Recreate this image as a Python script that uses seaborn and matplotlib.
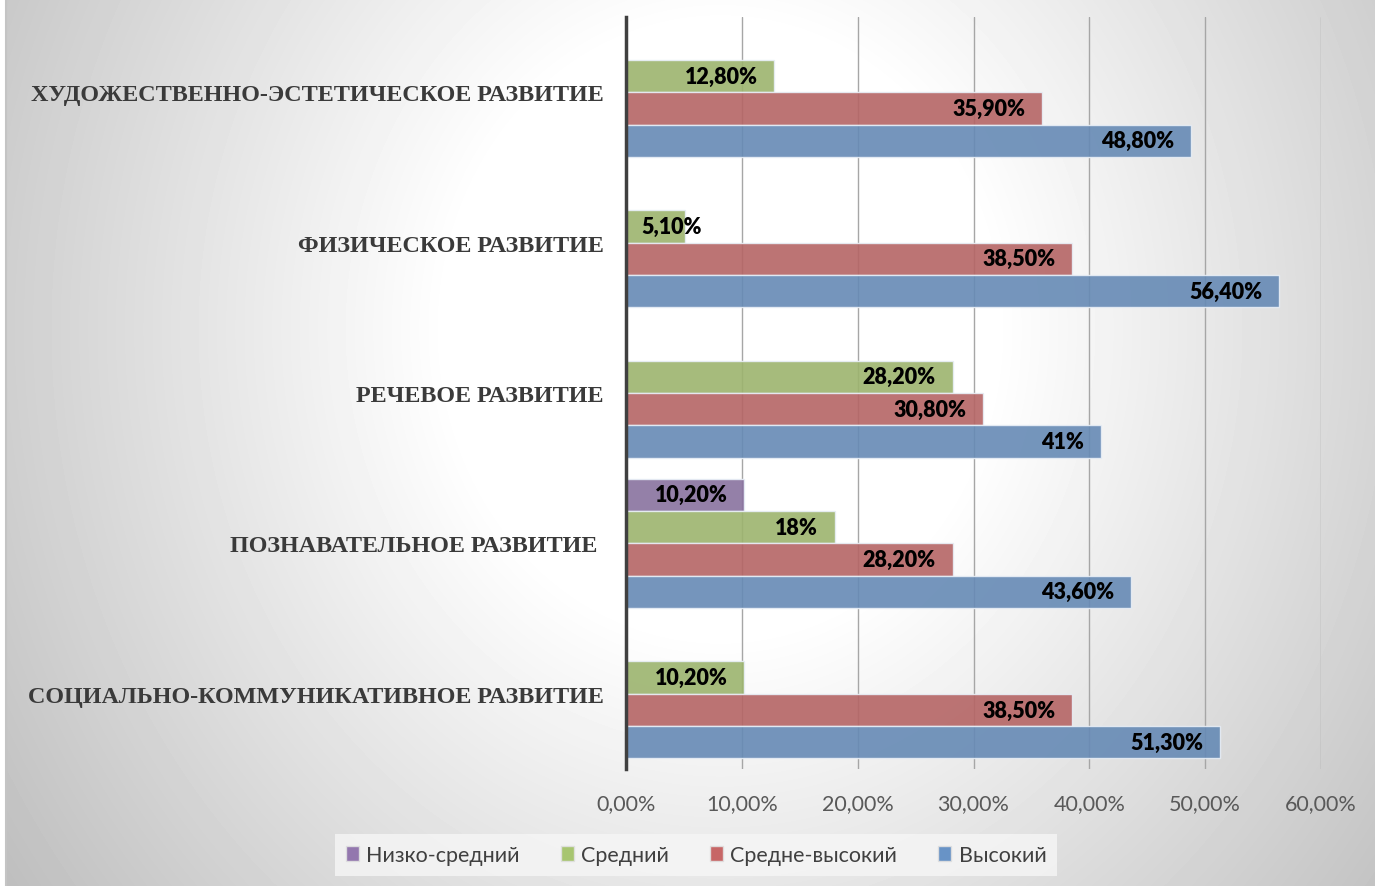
"""Уровни развития по образовательным областям — горизонтальная столбчатая диаграмма"""

import numpy as np
import pandas as pd
import matplotlib.pyplot as plt
import seaborn as sns
from matplotlib.patches import Patch

# категории сверху вниз
categories = [
    'ХУДОЖЕСТВЕННО-ЭСТЕТИЧЕСКОЕ РАЗВИТИЕ',
    'ФИЗИЧЕСКОЕ РАЗВИТИЕ',
    'РЕЧЕВОЕ РАЗВИТИЕ',
    'ПОЗНАВАТЕЛЬНОЕ РАЗВИТИЕ ',
    'СОЦИАЛЬНО-КОММУНИКАТИВНОЕ РАЗВИТИЕ',
]
levels = ['Низко-средний', 'Средний', 'Средне-высокий', 'Высокий']

# значения в %, None = нет столбца
low_mid = [None, None, None, 10.2, None]
mid = [12.8, 5.1, 28.2, 18.0, 10.2]
mid_high = [35.9, 38.5, 30.8, 28.2, 38.5]
high = [48.8, 56.4, 41.0, 43.6, 51.3]

x_ticks = [0, 10, 20, 30, 40, 50, 60]

colors = ['#896aa7', '#9fc062', '#c35757', '#5989c2']


def fmt_pct(v):
    if float(v).is_integer():
        return f'{int(v)}%'
    return f'{v:.2f}'.replace('.', ',') + '%'


rows = []
for lvl, vals in zip(levels, [low_mid, mid, mid_high, high]):
    for cat, v in zip(categories, vals):
        if v is not None:
            rows.append({'Область': cat, 'Уровень': lvl, 'Значение': v})
df = pd.DataFrame(rows)

sns.set_style('white')
plt.rcParams['font.family'] = ['Lato', 'DejaVu Sans']

fig = plt.figure(figsize=(13.75, 8.87), dpi=100)

# фон — радиальный градиент (белый в центре, серый к краям)
bg = fig.add_axes([0, 0, 1, 1], zorder=-10)
yy, xx = np.mgrid[0:887, 0:1375]
r = np.hypot((xx - 720) / 720, (yy - 330) / 800)
shade = (255 - 78 * np.clip(r - 0.38, 0, None)) / 255
shade[:, :5] = 1.0
bg.imshow(shade, cmap='gray', vmin=0, vmax=1, aspect='auto', interpolation='bilinear')
bg.axvline(5.5, color='#c4c4c4', lw=1.5)
bg.set_axis_off()

ax = fig.add_axes([626 / 1375, 1 - 770 / 887, 695 / 1375, 752 / 887])
ax.patch.set_alpha(0)

sns.barplot(data=df, y='Область', x='Значение', hue='Уровень',
            order=categories, hue_order=levels, palette=colors,
            orient='h', width=0.86, alpha=0.9, edgecolor='#e8eef6',
            linewidth=1, legend=False, ax=ax)

# подписи значений
for cont in ax.containers:
    for bar in cont:
        w = bar.get_width()
        yc = bar.get_y() + bar.get_height() / 2
        if w < 8:
            ax.annotate(fmt_pct(w), (0, yc), xytext=(11, 0), textcoords='offset points',
                        ha='left', va='center', fontsize=15.5, fontweight='heavy',
                        color='black', family=['Lato', 'DejaVu Sans'])
        else:
            ax.annotate(fmt_pct(w), (w, yc), xytext=(-12, 0), textcoords='offset points',
                        ha='right', va='center', fontsize=15.5, fontweight='heavy',
                        color='black', family=['Lato', 'DejaVu Sans'])

ax.set_xlim(0, 60)
ax.set_ylim(len(categories) - 0.5, -0.5)
ax.set_xticks(x_ticks)
ax.set_xticklabels([f'{t:.2f}'.replace('.', ',') + '%' for t in x_ticks],
                   fontsize=15.5, color='#595959')
ax.tick_params(axis='x', length=0, pad=17)
ax.tick_params(axis='y', length=0, pad=16)
for lbl in ax.get_yticklabels():
    lbl.set_family(['Liberation Serif', 'DejaVu Serif'])
    lbl.set_fontweight('bold')
    lbl.set_fontsize(17.4)
    lbl.set_color('#3a3a3a')
ax.set_xlabel('')
ax.set_ylabel('')
ax.xaxis.grid(True, color='#a6a6a6', lw=1)
ax.set_axisbelow(True)
for side in ['top', 'right', 'bottom']:
    ax.spines[side].set_visible(False)
ax.spines['left'].set_color('#404040')
ax.spines['left'].set_linewidth(2.5)
ax.spines['left'].set_zorder(5)

handles = [Patch(facecolor=c, alpha=0.9, edgecolor='#e0e0e0') for c in colors]
leg = fig.legend(handles, levels, loc='center', bbox_to_anchor=(696 / 1375, 1 - 856 / 887),
                 ncol=4, fontsize=15.5, frameon=True, handlelength=0.6, handleheight=0.75,
                 handletextpad=0.35, columnspacing=1.9, borderpad=0.5, borderaxespad=0,
                 fancybox=False)
leg.get_frame().set_facecolor('#f6f6f6')
leg.get_frame().set_edgecolor('none')
leg.get_frame().set_alpha(0.8)
for t in leg.get_texts():
    t.set_color('#404040')

fig.savefig('out.png', dpi=100)
